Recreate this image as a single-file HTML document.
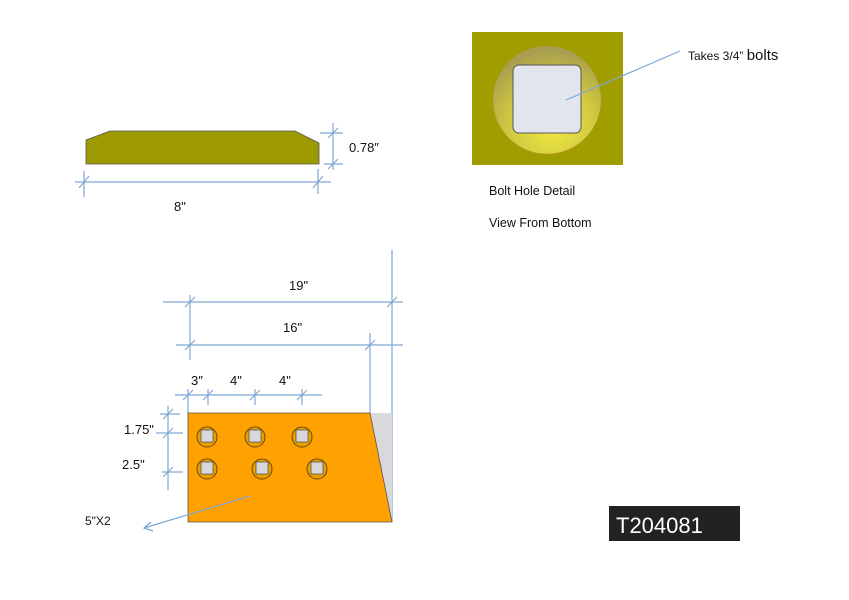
<!DOCTYPE html>
<html><head><meta charset="utf-8"><style>
html,body{margin:0;padding:0;background:#fff;}
svg{display:block;}
text{font-family:"Liberation Sans",sans-serif;fill:#111;}
</style></head><body>
<svg width="849" height="600" viewBox="0 0 849 600" xmlns="http://www.w3.org/2000/svg">
<defs>
<radialGradient id="rg" cx="0.55" cy="0.75" r="0.7">
<stop offset="0" stop-color="#f0ea40"/>
<stop offset="0.6" stop-color="#cfc640"/>
<stop offset="1" stop-color="#a8a050"/>
</radialGradient>
</defs>
<g stroke="#7fa7d6" stroke-width="1.2" fill="none">
<!-- top view dims -->
<line x1="75" y1="182" x2="331" y2="182"/>
<line x1="84" y1="171" x2="84" y2="197"/>
<line x1="318" y1="169" x2="318" y2="194"/>
<line x1="79" y1="188" x2="89" y2="176"/>
<line x1="313" y1="188" x2="323" y2="176"/>
<line x1="333" y1="123" x2="333" y2="170"/>
<line x1="320" y1="133" x2="343" y2="133"/>
<line x1="324" y1="164" x2="343" y2="164"/>
<line x1="328" y1="138" x2="338" y2="128"/>
<line x1="328" y1="169" x2="338" y2="159"/>
<!-- big dims -->
<line x1="392" y1="250" x2="392" y2="522"/>
<line x1="370" y1="333" x2="370" y2="413"/>
<line x1="163" y1="302" x2="403" y2="302"/>
<line x1="176" y1="345" x2="403" y2="345"/>
<line x1="190" y1="295" x2="190" y2="360"/>
<line x1="185" y1="307" x2="195" y2="297"/>
<line x1="387" y1="307" x2="397" y2="297"/>
<line x1="185" y1="350" x2="195" y2="340"/>
<line x1="365" y1="350" x2="375" y2="340"/>
<!-- small dims -->
<line x1="175" y1="395" x2="322" y2="395"/>
<line x1="188" y1="389" x2="188" y2="413"/>
<line x1="208" y1="389" x2="208" y2="405"/>
<line x1="255" y1="389" x2="255" y2="405"/>
<line x1="302" y1="389" x2="302" y2="405"/>
<line x1="183" y1="400" x2="193" y2="390"/>
<line x1="203" y1="400" x2="213" y2="390"/>
<line x1="250" y1="400" x2="260" y2="390"/>
<line x1="297" y1="400" x2="307" y2="390"/>
<line x1="168" y1="406" x2="168" y2="490"/>
<line x1="160" y1="414" x2="180" y2="414"/>
<line x1="156" y1="433" x2="183" y2="433"/>
<line x1="162" y1="472" x2="183" y2="472"/>
<line x1="163" y1="419" x2="173" y2="409"/>
<line x1="163" y1="438" x2="173" y2="428"/>
<line x1="163" y1="477" x2="173" y2="467"/>
</g>
<!-- top view plate -->
<polygon points="86,140 110,131 295,131 319,143 319,164 86,164" fill="#9c9a00" stroke="#555" stroke-width="0.8"/>
<text x="349" y="152" font-size="13">0.78″</text>
<text x="174" y="211" font-size="13">8"</text>
<!-- bolt detail -->
<rect x="472" y="32" width="151" height="133" fill="#a09d00"/>
<circle cx="547" cy="100" r="54" fill="url(#rg)" stroke="#c09030" stroke-width="0.6" stroke-dasharray="2,1"/>
<rect x="513" y="65" width="68" height="68" rx="6" fill="#e3e5ee" stroke="#555" stroke-width="1"/>
<line x1="566" y1="100" x2="680" y2="51" stroke="#7fa7d6" stroke-width="1.2"/>
<text x="688" y="60" font-size="12">Takes 3/4”  <tspan font-size="15">bolts</tspan></text>
<text x="489" y="195" font-size="12.5">Bolt Hole Detail</text>
<text x="489" y="227" font-size="12.5">View From Bottom</text>
<!-- plate -->
<polygon points="370,413 392,413 392,522" fill="#d9d9dc"/>
<polygon points="188,413 370,413 392,522 188,522" fill="#ffa100" stroke="#555" stroke-width="0.8"/>
<g fill="#e8a000" stroke="#6a4a00" stroke-width="1">
<circle cx="207" cy="437" r="10"/><circle cx="255" cy="437" r="10"/><circle cx="302" cy="437" r="10"/>
<circle cx="207" cy="469" r="10"/><circle cx="262" cy="469" r="10"/><circle cx="317" cy="469" r="10"/>
</g>
<g fill="#d8d8dc" stroke="#555" stroke-width="0.8">
<rect x="201" y="430" width="12" height="12"/><rect x="249" y="430" width="12" height="12"/><rect x="296" y="430" width="12" height="12"/>
<rect x="201" y="462" width="12" height="12"/><rect x="256" y="462" width="12" height="12"/><rect x="311" y="462" width="12" height="12"/>
</g>
<line x1="250" y1="496" x2="144" y2="528" stroke="#7fa7d6" stroke-width="1.2"/>
<polyline points="151,522 144,528 153,531" fill="none" stroke="#7fa7d6" stroke-width="1.2"/>
<text x="289" y="290" font-size="13">19"</text>
<text x="283" y="332" font-size="13">16"</text>
<text x="191" y="385" font-size="13">3″</text>
<text x="230" y="385" font-size="13">4"</text>
<text x="279" y="385" font-size="13">4"</text>
<text x="124" y="434" font-size="13">1.75"</text>
<text x="122" y="469" font-size="13">2.5"</text>
<text x="85" y="525" font-size="12">5"X2</text>
<!-- label box -->
<rect x="609" y="506" width="131" height="35" fill="#222"/>
<text x="616" y="533" font-size="22" style="fill:#fff">T204081</text>
</svg>
</body></html>
